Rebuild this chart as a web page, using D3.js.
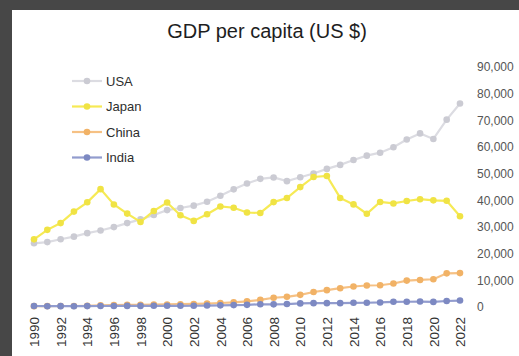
<!DOCTYPE html>
<html>
<head>
<meta charset="utf-8">
<script src="https://cdn.jsdelivr.net/npm/d3@7"></script>
<style>
  body { margin: 0; background: #474747; }
  svg { display: block; font-family: Arial, "Liberation Sans", sans-serif; }
</style>
</head>
<body>
<div class="canvas"></div>
<script>
// data
const years = d3.range(1990, 2023);
const usa = [23889, 24342, 25419, 26387, 27695, 28691, 29968, 31459, 32854, 34515,
  36330, 37134, 37998, 39490, 41725, 44123, 46302, 48050, 48570, 47195,
  48651, 50066, 51784, 53291, 55124, 56763, 57867, 59915, 62805, 65095,
  63028, 70249, 76330];
const japan = [25371, 28925, 31465, 35766, 39269, 44198, 38437, 35022, 31903, 36027,
  39169, 34407, 32289, 34808, 37688, 37218, 35434, 35275, 39339, 40855,
  44968, 48760, 49145, 40898, 38475, 34961, 39375, 38834, 39751, 40416,
  39987, 39827, 34017];
const china = [318, 333, 366, 377, 473, 610, 709, 782, 829, 873,
  959, 1053, 1149, 1289, 1509, 1753, 2099, 2694, 3468, 3832,
  4550, 5618, 6317, 7051, 7679, 8067, 8148, 8817, 9905, 10144,
  10409, 12618, 12720];
const india = [368, 303, 317, 301, 346, 374, 400, 415, 413, 442,
  443, 452, 471, 546, 627, 714, 806, 1028, 999, 1102,
  1358, 1450, 1444, 1450, 1574, 1590, 1714, 1958, 1974, 2050,
  1913, 2250, 2411];
const yTicks = d3.range(0, 90001, 10000);
const xTicks = d3.range(1990, 2023, 2);

const series = [
  { name: 'USA', values: usa, line: '#dcdce2', dot: '#cbcbd3' },
  { name: 'Japan', values: japan, line: '#f6ea55', dot: '#f0e344' },
  { name: 'China', values: china, line: '#f6c184', dot: '#f1b266' },
  { name: 'India', values: india, line: '#929cce', dot: '#7d89c2' }
];

const width = 519;
const height = 356;

const svg = d3.select('.canvas')
  .append('svg')
  .attr('width', width)
  .attr('height', height);

// photo frame + white page
svg.append('rect')
  .attr('width', width)
  .attr('height', height)
  .attr('fill', '#474747');
svg.append('rect')
  .attr('x', 12)
  .attr('y', 10)
  .attr('width', width - 12)
  .attr('height', height - 10)
  .attr('fill', '#ffffff');

// title
svg.append('text')
  .attr('x', 267)
  .attr('y', 38)
  .attr('text-anchor', 'middle')
  .attr('font-size', 20)
  .attr('fill', '#1e1e1e')
  .text('GDP per capita (US $)');

// scales
const x = d3.scaleLinear()
  .domain([1990, 2022])
  .range([34, 460]);

const y = d3.scaleLinear()
  .domain([0, 90000])
  .range([307, 67]);

// axes
const yAxis = d3.axisRight(y)
  .tickValues(yTicks)
  .tickSize(0)
  .tickPadding(0)
  .tickFormat(d3.format(','));

const yAxisGroup = svg.append('g')
  .attr('transform', 'translate(477, 0)')
  .call(yAxis);

yAxisGroup.select('.domain').remove();
yAxisGroup.selectAll('text')
  .attr('font-size', 12)
  .attr('font-family', 'Arial, "Liberation Sans", sans-serif')
  .attr('fill', '#555555');

const xAxis = d3.axisBottom(x)
  .tickValues(xTicks)
  .tickSize(0)
  .tickFormat(d3.format('d'));

const xAxisGroup = svg.append('g')
  .attr('transform', 'translate(0, 317)')
  .call(xAxis);

xAxisGroup.select('.domain').remove();
xAxisGroup.selectAll('text')
  .attr('font-size', 13.5)
  .attr('font-family', 'Arial, "Liberation Sans", sans-serif')
  .attr('fill', '#333333')
  .attr('text-anchor', 'end')
  .attr('dy', '0.35em')
  .attr('y', 0)
  .attr('x', 0)
  .attr('transform', 'rotate(-90)');

// lines + markers
const line = d3.line()
  .x((d, i) => x(years[i]))
  .y(d => y(d));

series.forEach(s => {
  const g = svg.append('g');
  g.append('path')
    .datum(s.values)
    .attr('fill', 'none')
    .attr('stroke', s.line)
    .attr('stroke-width', 2.2)
    .attr('d', line);
  g.selectAll('circle')
    .data(s.values)
    .enter()
    .append('circle')
    .attr('cx', (d, i) => x(years[i]))
    .attr('cy', d => y(d))
    .attr('r', 3.3)
    .attr('fill', s.dot);
});

// legend
const legend = svg.append('g')
  .attr('transform', 'translate(72, 81)');

const items = legend.selectAll('g')
  .data(series)
  .enter()
  .append('g')
  .attr('transform', (d, i) => `translate(0, ${i * 25.5})`);

items.append('line')
  .attr('x1', 0)
  .attr('x2', 30)
  .attr('stroke', d => d.line)
  .attr('stroke-width', 2.2);

items.append('circle')
  .attr('cx', 15)
  .attr('r', 3.3)
  .attr('fill', d => d.dot);

items.append('text')
  .attr('x', 34)
  .attr('dy', '0.35em')
  .attr('font-size', 13)
  .attr('fill', '#2e2e2e')
  .text(d => d.name);
</script>
</body>
</html>
